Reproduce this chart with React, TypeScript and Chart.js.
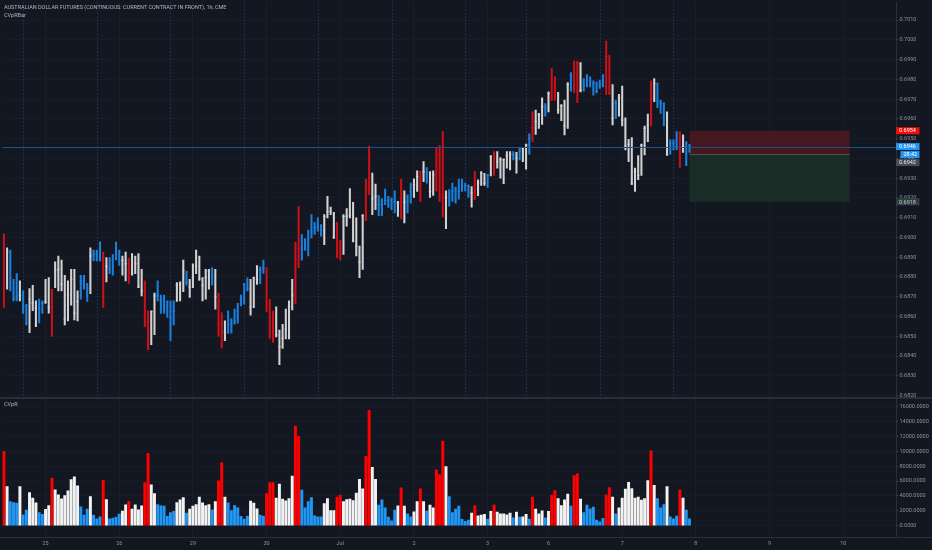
import { useEffect, useRef } from "react";
import { Chart, registerables } from "chart.js";

Chart.register(...registerables);

// ---------- data ----------
const priceHigh = [
  0.69019, 0.68948, 0.68936, 0.68788, 0.68817, 0.6878, 0.6873, 0.68662, 0.68741, 0.68758,
  0.68679, 0.68688, 0.68679, 0.68788, 0.68797, 0.68738, 0.68877, 0.68906, 0.68886, 0.68809,
  0.6878, 0.68839, 0.68839, 0.6873, 0.68809, 0.68809, 0.68768, 0.68948, 0.68936, 0.68936,
  0.68978, 0.68926, 0.68898, 0.68898, 0.68914, 0.68977, 0.68936, 0.68906, 0.68926, 0.68894,
  0.68918, 0.68906, 0.68918, 0.68839, 0.6878, 0.68629, 0.68629, 0.68718, 0.6878, 0.68708,
  0.68708, 0.68679, 0.68679, 0.68679, 0.68772, 0.68775, 0.68886, 0.6883, 0.68788, 0.68867,
  0.68936, 0.68906, 0.68797, 0.68839, 0.68839, 0.68847, 0.68839, 0.68718, 0.68619, 0.68578,
  0.68629, 0.6859, 0.68637, 0.68667, 0.68709, 0.68768, 0.68796, 0.68788, 0.688, 0.68858,
  0.68852, 0.68885, 0.68847, 0.68687, 0.68628, 0.68649, 0.68531, 0.68561, 0.68637, 0.68679,
  0.68788, 0.68976, 0.69156, 0.69015, 0.68995, 0.69037, 0.69116, 0.69077, 0.69099, 0.69065,
  0.69116, 0.69208, 0.69154, 0.69127, 0.69077, 0.68986, 0.69116, 0.69146, 0.69247, 0.69178,
  0.69099, 0.68956, 0.69116, 0.69295, 0.69463, 0.69326, 0.6927, 0.69213, 0.69196, 0.69245,
  0.69208, 0.692, 0.69236, 0.69183, 0.69295, 0.69236, 0.69216, 0.69275, 0.69297, 0.69337,
  0.69334, 0.69384, 0.69354, 0.69334, 0.69337, 0.69455, 0.69465, 0.69536, 0.69236, 0.69242,
  0.69275, 0.69255, 0.69295, 0.69295, 0.69275, 0.69267, 0.69258, 0.69334, 0.69292, 0.69334,
  0.69325, 0.6932, 0.69415, 0.69435, 0.69435, 0.69404, 0.69398, 0.69435, 0.69435, 0.69435,
  0.69431, 0.69452, 0.69455, 0.69473, 0.69524, 0.69636, 0.69645, 0.69628, 0.69707, 0.69678,
  0.69737, 0.69855, 0.69813, 0.69734, 0.69673, 0.69695, 0.69784, 0.69835, 0.69893, 0.69893,
  0.69885, 0.69804, 0.69825, 0.69813, 0.69793, 0.69788, 0.69796, 0.69825, 0.69994, 0.69922,
  0.69774, 0.69695, 0.69724, 0.69766, 0.69606, 0.69497, 0.69505, 0.69351, 0.69415, 0.69473,
  0.69564, 0.69625, 0.69793, 0.69804, 0.69782, 0.69695, 0.69683, 0.69636, 0.69494, 0.69494,
  0.69536, 0.69536, 0.69519, 0.69485, 0.69472,
];

const priceLow = [
  0.68646, 0.68738, 0.6873, 0.68679, 0.68679, 0.68679, 0.68615, 0.68558, 0.68518, 0.68629,
  0.68548, 0.68567, 0.68615, 0.68666, 0.68617, 0.68499, 0.68746, 0.6873, 0.6873, 0.68558,
  0.68578, 0.68657, 0.68583, 0.68578, 0.68688, 0.68738, 0.68676, 0.68716, 0.68881, 0.68881,
  0.68881, 0.68646, 0.68775, 0.68817, 0.68809, 0.68886, 0.68859, 0.68809, 0.6878, 0.68768,
  0.68809, 0.68817, 0.68746, 0.68704, 0.68548, 0.68431, 0.68457, 0.68508, 0.68679, 0.68615,
  0.68615, 0.68595, 0.68478, 0.68558, 0.68676, 0.68679, 0.68726, 0.68758, 0.68696, 0.68746,
  0.68817, 0.68783, 0.68679, 0.68688, 0.68738, 0.68758, 0.68637, 0.68499, 0.68441, 0.68478,
  0.68515, 0.68516, 0.68561, 0.68566, 0.68654, 0.68662, 0.68729, 0.68607, 0.68645, 0.68763,
  0.68766, 0.68818, 0.68625, 0.68489, 0.68469, 0.68497, 0.68356, 0.68438, 0.68486, 0.68486,
  0.68633, 0.68665, 0.68847, 0.68885, 0.68934, 0.68906, 0.68998, 0.69015, 0.69032, 0.69006,
  0.68964, 0.69099, 0.69116, 0.68995, 0.68897, 0.68885, 0.68914, 0.69057, 0.69099, 0.68978,
  0.68906, 0.68796, 0.68838, 0.69085, 0.69216, 0.69116, 0.69141, 0.6911, 0.6911, 0.69166,
  0.69152, 0.69141, 0.69124, 0.69107, 0.69094, 0.69073, 0.69124, 0.69174, 0.69203, 0.69233,
  0.69183, 0.69283, 0.69275, 0.69203, 0.69213, 0.69236, 0.69183, 0.69104, 0.69045, 0.69158,
  0.69183, 0.69174, 0.69194, 0.69233, 0.69236, 0.69203, 0.69153, 0.69191, 0.69211, 0.69263,
  0.69263, 0.69253, 0.69312, 0.69314, 0.69351, 0.693, 0.69272, 0.69351, 0.69342, 0.69393,
  0.69325, 0.69393, 0.69384, 0.69346, 0.69421, 0.69485, 0.69522, 0.69552, 0.69572, 0.69614,
  0.69636, 0.69692, 0.69695, 0.69628, 0.69591, 0.69519, 0.69552, 0.6974, 0.69732, 0.69682,
  0.69737, 0.6974, 0.69762, 0.69762, 0.6972, 0.69732, 0.69754, 0.69762, 0.69724, 0.69724,
  0.69569, 0.69603, 0.69614, 0.69564, 0.69443, 0.69384, 0.69267, 0.69233, 0.69292, 0.69314,
  0.69418, 0.69485, 0.69564, 0.69687, 0.69657, 0.69628, 0.69566, 0.69415, 0.69421, 0.69443,
  0.69443, 0.69354, 0.69431, 0.69364, 0.69431,
];

const priceClose = [
  0.68768, 0.68926, 0.68772, 0.68688, 0.68696, 0.68708, 0.68651, 0.68565, 0.68688, 0.68669,
  0.68642, 0.68639, 0.68667, 0.68674, 0.68647, 0.68649, 0.68834, 0.68839, 0.68763, 0.68588,
  0.68709, 0.68787, 0.68617, 0.68677, 0.6878, 0.68782, 0.68743, 0.68906, 0.68914, 0.68918,
  0.6894, 0.68834, 0.68854, 0.68844, 0.68886, 0.68911, 0.68926, 0.68884, 0.68867, 0.68886,
  0.68817, 0.68867, 0.6875, 0.6873, 0.68599, 0.68478, 0.68625, 0.68704, 0.68709, 0.68679,
  0.68659, 0.68671, 0.68595, 0.68625, 0.68758, 0.68766, 0.68834, 0.68772, 0.6875, 0.68797,
  0.68856, 0.6879, 0.68758, 0.68797, 0.6883, 0.68802, 0.68699, 0.68565, 0.68558, 0.6852,
  0.68558, 0.68562, 0.68578, 0.68628, 0.68687, 0.68763, 0.68741, 0.68649, 0.68796, 0.68788,
  0.68838, 0.68847, 0.68649, 0.68595, 0.68595, 0.68506, 0.68447, 0.68491, 0.68536, 0.68649,
  0.68709, 0.68906, 0.68944, 0.68939, 0.68939, 0.68998, 0.69028, 0.69052, 0.69048, 0.69035,
  0.69107, 0.69129, 0.69132, 0.69001, 0.68926, 0.68922, 0.69107, 0.69107, 0.69112, 0.68986,
  0.68956, 0.68875, 0.6911, 0.69236, 0.69236, 0.69196, 0.69208, 0.69166, 0.69166, 0.69188,
  0.69188, 0.69191, 0.69183, 0.69174, 0.69178, 0.69178, 0.69188, 0.69233, 0.69267, 0.69309,
  0.69331, 0.69334, 0.69326, 0.69233, 0.69317, 0.69242, 0.69418, 0.69129, 0.69203, 0.6922,
  0.69233, 0.69242, 0.69233, 0.69258, 0.69263, 0.69258, 0.69225, 0.69267, 0.69275, 0.69325,
  0.69275, 0.69314, 0.6941, 0.6941, 0.69384, 0.69393, 0.69393, 0.69415, 0.69421, 0.69418,
  0.69401, 0.69435, 0.69448, 0.69468, 0.69502, 0.69556, 0.69586, 0.6962, 0.69662, 0.69653,
  0.69729, 0.69774, 0.69729, 0.69645, 0.69667, 0.69564, 0.69774, 0.69821, 0.69833, 0.6988,
  0.69745, 0.69771, 0.69816, 0.69791, 0.69779, 0.6974, 0.69774, 0.69771, 0.69914, 0.69729,
  0.69603, 0.69678, 0.69707, 0.69594, 0.69463, 0.69472, 0.69275, 0.69334, 0.69314, 0.69468,
  0.69552, 0.69569, 0.69704, 0.69779, 0.69687, 0.69678, 0.69611, 0.69421, 0.69477, 0.69477,
  0.6946, 0.69485, 0.6946, 0.69477, 0.69463,
];

const cvprVolume = [
  10000, 5260, 3250, 3120, 3030, 5260, 1470, 2100, 4460, 3700,
  3080, 1780, 1520, 2190, 2720, 6380, 4820, 4150, 3610, 4060,
  4680, 6200, 6560, 5350, 2540, 1430, 2230, 3920, 1430, 940,
  1200, 6110, 3520, 940, 1030, 1160, 1560, 1960, 2810, 3250,
  2230, 2810, 2140, 2680, 5800, 9720, 5490, 4330, 2850, 2680,
  2630, 1250, 1780, 1920, 3120, 3480, 3790, 1700, 2230, 2630,
  2850, 3840, 3080, 2720, 2850, 2140, 3250, 6020, 8430, 3840,
  3080, 2050, 2720, 2410, 1250, 890, 1290, 3300, 3030, 2270,
  1430, 1290, 4330, 5800, 5800, 3700, 5580, 3570, 3350, 3660,
  6650, 13380, 12000, 4770, 2410, 3250, 3790, 1340, 1200, 1200,
  2990, 3660, 2050, 2050, 3840, 4100, 3250, 3520, 3570, 3390,
  4370, 6240, 4950, 9320, 15480, 7850, 6240, 2770, 3480, 2410,
  1160, 670, 2100, 2680, 5080, 2630, 1610, 1200, 1870, 3250,
  4950, 3250, 1960, 2770, 2410, 7490, 6870, 11370, 7940, 3920,
  1780, 2230, 2630, 850, 580, 760, 1700, 2720, 1340, 1430,
  1520, 890, 1920, 2770, 1830, 1610, 1610, 1470, 1700, 1070,
  1830, 1160, 1200, 1520, 890, 3840, 2230, 1610, 2010, 1070,
  1920, 4100, 4730, 3660, 2720, 3480, 4240, 2630, 6740, 6960,
  3570, 1780, 2770, 2270, 2500, 760, 540, 980, 4150, 5130,
  3840, 1610, 2410, 3700, 4910, 5840, 5000, 3700, 3840, 3430,
  3660, 6070, 10040, 5440, 3660, 2410, 2850, 5260, 1200, 940,
  1290, 4820, 3700, 2100, 940,
];

// r = red, b = blue, w = white (CVpR bar colouring)
const barTone =
  "rwbbbwbbww" + "wbbwwrwwww" + "wwwwbbbwbb" + "brwbbbbwwr" + "wwwwrrwwbb" +
  "bbbbwwwbww" + "wwwwwbwrrw" + "bbbbbbbwww" + "bbrrrwwwww" + "wrrbbbbbbb" +
  "wwwwrrwwww" + "wwwrrwwbbb" + "bbbwrwbbww" + "rwbwwrrrwb" + "bbbbbbwrww" +
  "wbwrwwwwwb" + "wbwwbrwwwb" + "wrrwwwwbrr" + "wbbbbbbbrr" + "wbwwwwwwww" +
  "wwrwbbbwbb" + "brwbb";

const dayTickIndex = [13, 36, 59, 82, 105, 128, 151, 170, 193, 216, 239, 262];
const dayTickLabels = ["25", "26", "29", "30", "Jul", "2", "3", "6", "7", "8", "9", "10"];
const sessionStartIndex = [6, 29, 52, 75, 98, 121, 144, 163, 186, 209];

const priceTicks = [
  0.682, 0.683, 0.684, 0.685, 0.686, 0.687, 0.688, 0.689, 0.69, 0.691,
  0.692, 0.693, 0.694, 0.695, 0.696, 0.697, 0.698, 0.699, 0.7, 0.701,
];
const volumeTicks = [0, 2000, 4000, 6000, 8000, 10000, 12000, 14000, 16000];

const lastPrice = 0.6946;
const countdownText = "28:42";
const stopPrice = 0.6954;
const entryPrice = 0.6942;
const targetPrice = 0.6918;
const positionStartIndex = 214;
const positionEndIndex = 264;

const titleText = "AUSTRALIAN DOLLAR FUTURES (CONTINUOUS: CURRENT CONTRACT IN FRONT), 1h, CME";
const overlayName = "CVpRBar";
const paneName = "CVpR";

// ---------- styling ----------
const BG = "#131722";
const FONT = "Roboto";
const FS = 5.5;
const priceTone: Record<string, string> = { r: "#cc1016", b: "#1a80dc", w: "#d2d2d2" };
const volTone: Record<string, string> = { r: "#ff0000", b: "#2196f3", w: "#f2f2f2" };

function buildPlugin() {
  return {
    id: "tvDecor",
    beforeDatasetsDraw(chart: any) {
      const { ctx, scales } = chart;
      const x = scales.x, y = scales.y;
      ctx.save();
      // session breaks (price pane only)
      ctx.strokeStyle = "#27375c";
      ctx.lineWidth = 1;
      ctx.setLineDash([1.5, 2]);
      for (const s of sessionStartIndex) {
        const px = Math.round(x.getPixelForValue(s)) + 0.5;
        ctx.beginPath();
        ctx.moveTo(px, y.top);
        ctx.lineTo(px, y.bottom);
        ctx.stroke();
      }
      ctx.setLineDash([]);
      // long/short position tool
      const x0 = x.getPixelForValue(positionStartIndex);
      const x1 = x.getPixelForValue(positionEndIndex);
      const ys = y.getPixelForValue(stopPrice);
      const ye = y.getPixelForValue(entryPrice);
      const yt = y.getPixelForValue(targetPrice);
      ctx.fillStyle = "#45171f";
      ctx.fillRect(x0, ys, x1 - x0, ye - ys);
      ctx.fillStyle = "#192c25";
      ctx.fillRect(x0, ye, x1 - x0, yt - ye);
      ctx.strokeStyle = "#4e5058";
      ctx.beginPath();
      ctx.moveTo(x0, Math.round(ye) + 0.5);
      ctx.lineTo(x1, Math.round(ye) + 0.5);
      ctx.stroke();
      ctx.restore();
    },
    afterDatasetsDraw(chart: any) {
      const { ctx, scales, chartArea } = chart;
      const y = scales.y;
      ctx.save();
      const py = Math.round(y.getPixelForValue(lastPrice)) + 0.5;
      ctx.strokeStyle = "#1d5592";
      ctx.lineWidth = 1;
      ctx.beginPath();
      ctx.moveTo(chartArea.left, py);
      ctx.lineTo(chartArea.right, py);
      ctx.stroke();
      ctx.restore();
    },
    afterDraw(chart: any) {
      const { ctx, scales, width } = chart;
      const x = scales.x, y = scales.y, yv = scales.yv;
      ctx.save();
      // pane separators
      ctx.fillStyle = "#2a2e39";
      ctx.fillRect(0, Math.round(yv.top) - 1, width, 2);
      ctx.fillRect(0, Math.round(x.top), width, 1);
      // price badges
      const h = 7;
      const left = y.left;
      const right = y.left + 23.5;
      ctx.font = `${FS}px ${FONT}`;
      ctx.textBaseline = "middle";
      ctx.textAlign = "left";
      const badges = [
        { v: stopPrice, text: stopPrice.toFixed(4), bg: "#f20d0d", fg: "#ffffff", extra: null as null | string },
        { v: lastPrice, text: lastPrice.toFixed(4), bg: "#2196f3", fg: "#ffffff", extra: countdownText },
        { v: entryPrice, text: entryPrice.toFixed(4), bg: "#4a4d56", fg: "#e6e6e6", extra: null },
        { v: targetPrice, text: targetPrice.toFixed(4), bg: "#363a45", fg: "#9fdcaa", extra: null },
      ];
      let prevBottom = -Infinity;
      for (const b of badges) {
        let top = y.getPixelForValue(b.v) - h / 2;
        if (top < prevBottom + 1) top = prevBottom + 1;
        ctx.fillStyle = b.bg;
        ctx.fillRect(left, top, right - left, h);
        ctx.fillStyle = b.fg;
        ctx.fillText(b.text, left + 3, top + h / 2 + 0.3);
        prevBottom = top + h;
        if (b.extra) {
          const t2 = prevBottom + 1;
          ctx.fillStyle = b.bg;
          ctx.fillRect(left + 4.5, t2, right - left - 4.5, h);
          ctx.fillStyle = b.fg;
          ctx.fillText(b.extra, left + 7.5, t2 + h / 2 + 0.3);
          prevBottom = t2 + h;
        }
      }
      ctx.restore();
    },
  };
}

export default function App() {
  const canvasRef = useRef<HTMLCanvasElement | null>(null);

  useEffect(() => {
    document.body.style.margin = "0";
    document.body.style.background = BG;
    const canvas = canvasRef.current;
    if (!canvas) return;
    const n = priceHigh.length;
    const idx = Array.from({ length: n }, (_, i) => i);
    const pColors = idx.map((i) => priceTone[barTone[i]]);
    const vColors = idx.map((i) => volTone[barTone[i]]);
    const tickFont = { family: FONT, size: FS };
    const axisColor = "#8f929b";

    const chart = new Chart(canvas, {
      type: "bar",
      data: {
        datasets: [
          {
            type: "bar",
            label: "range",
            data: idx.map((i) => ({ x: i, y: [priceLow[i], priceHigh[i]] })) as any,
            yAxisID: "y",
            backgroundColor: pColors,
            borderWidth: 0,
            barThickness: 1.4,
            grouped: false,
          } as any,
          {
            type: "line",
            label: "close",
            data: idx.map((i) => ({ x: i, y: priceClose[i] })),
            yAxisID: "y",
            showLine: false,
            pointStyle: "line",
            pointRadius: 1.2,
            pointHoverRadius: 1.2,
            pointBorderWidth: 1,
            pointBorderColor: pColors,
            pointBackgroundColor: pColors,
          } as any,
          {
            type: "bar",
            label: paneName,
            data: idx.map((i) => ({ x: i, y: cvprVolume[i] })),
            yAxisID: "yv",
            backgroundColor: vColors,
            borderWidth: 0,
            barThickness: 2.3,
            grouped: false,
          } as any,
        ],
      },
      options: {
        responsive: false,
        animation: false,
        events: [],
        layout: { padding: 0 },
        plugins: { legend: { display: false }, tooltip: { enabled: false }, title: { display: false } },
        scales: {
          x: {
            type: "linear",
            position: "bottom",
            min: -0.53,
            max: 278.47,
            offset: false,
            afterBuildTicks: (s: any) => {
              s.ticks = dayTickIndex.map((v) => ({ value: v }));
            },
            afterFit: (s: any) => {
              s.height = 13;
              s.paddingLeft = 0;
              s.paddingRight = 0;
            },
            ticks: {
              autoSkip: false,
              maxRotation: 0,
              minRotation: 0,
              padding: 3,
              color: axisColor,
              font: tickFont,
              callback: (_v: any, i: number) => dayTickLabels[i],
            },
            grid: { color: "#1a1e29", drawTicks: false, offset: false },
            border: { display: false },
          } as any,
          y: {
            type: "linear",
            position: "right",
            stack: "panes",
            stackWeight: 397,
            min: 0.681897,
            max: 0.701907,
            afterBuildTicks: (s: any) => {
              s.ticks = priceTicks.map((v) => ({ value: v }));
            },
            afterFit: (s: any) => {
              s.width = 36;
              s.paddingTop = 0;
              s.paddingBottom = 0;
            },
            ticks: {
              autoSkip: false,
              padding: 1.5,
              color: axisColor,
              font: tickFont,
              callback: (v: any) => Number(v).toFixed(4),
            },
            grid: { color: "#181c27", tickColor: "#4a4e58", tickLength: 2 },
            border: { color: "#2a2e39" },
          } as any,
          yv: {
            type: "linear",
            position: "right",
            stack: "panes",
            stackWeight: 140,
            min: -1510,
            max: 17200,
            afterBuildTicks: (s: any) => {
              s.ticks = volumeTicks.map((v) => ({ value: v }));
            },
            afterFit: (s: any) => {
              s.width = 36;
              s.paddingTop = 0;
              s.paddingBottom = 0;
            },
            ticks: {
              autoSkip: false,
              padding: 1.5,
              color: axisColor,
              font: tickFont,
              callback: (v: any) => Number(v).toFixed(4),
            },
            grid: { color: "#181c27", tickColor: "#4a4e58", tickLength: 2 },
            border: { color: "#2a2e39" },
          } as any,
        },
      },
      plugins: [buildPlugin()],
    });
    return () => chart.destroy();
  }, []);

  const textStyle: any = {
    position: "absolute",
    left: 4,
    fontFamily: FONT,
    fontSize: `${FS}px`,
    lineHeight: "8px",
    color: "#b2b5be",
    whiteSpace: "nowrap",
    pointerEvents: "none",
  };

  return (
    <div style={{ position: "absolute", left: 0, top: 0, width: 932, height: 550, background: BG, overflow: "hidden" }}>
      <canvas ref={canvasRef} width={932} height={550} style={{ display: "block", width: 932, height: 550 }} />
      <div style={{ ...textStyle, top: 3 }}>{titleText}</div>
      <div style={{ ...textStyle, top: 11 }}>{overlayName}</div>
      <div style={{ ...textStyle, top: 400 }}>{paneName}</div>
    </div>
  );
}
